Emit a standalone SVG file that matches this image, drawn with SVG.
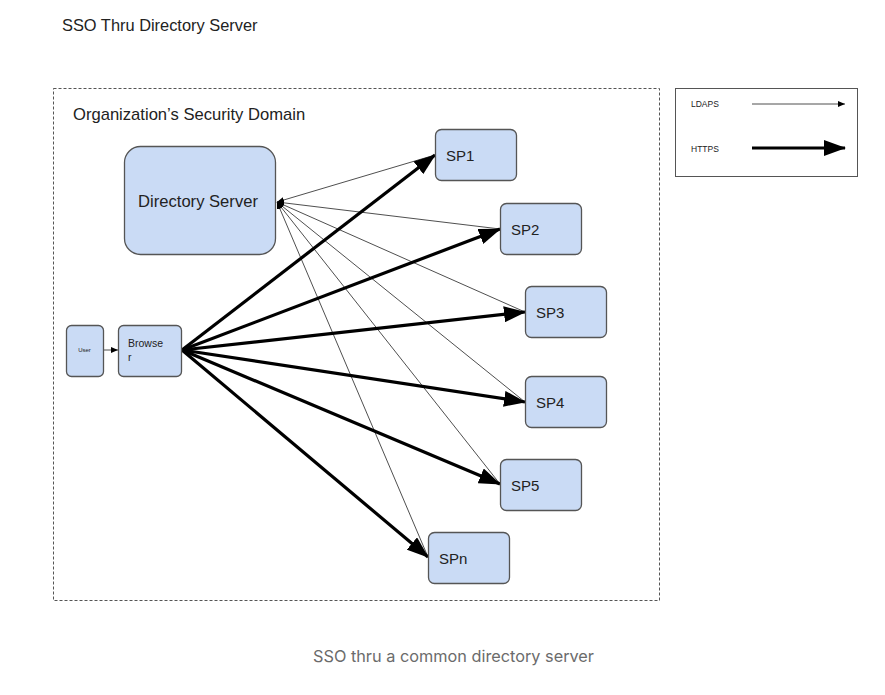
<svg xmlns="http://www.w3.org/2000/svg" width="885" height="695" viewBox="0 0 885 695">
<style>
text{font-family:"Liberation Sans",Arial,sans-serif;fill:#222}
.node{fill:#cadbf5;stroke:#555;stroke-width:1.3}
.thin{stroke:#222;stroke-width:0.8;fill:none}
.thick{stroke:#000;stroke-width:3.2;fill:none}
</style>
<defs>
<marker id="ah" markerUnits="userSpaceOnUse" markerWidth="22" markerHeight="16" viewBox="0 0 22 16" refX="21" refY="8" orient="auto">
<path d="M0,0 L22,8 L0,16 Z" fill="#000"/>
</marker>
<marker id="al" markerUnits="userSpaceOnUse" markerWidth="7" markerHeight="6" viewBox="0 0 7 6" refX="7" refY="3" orient="auto">
<path d="M0,0 L7,3 L0,6 Z" fill="#000"/>
</marker>
</defs>
<rect width="885" height="695" fill="#fff"/>
<text x="62" y="31" font-size="16.4">SSO Thru Directory Server</text>
<rect x="53.5" y="88.5" width="606" height="512" fill="none" stroke="#555" stroke-width="1" stroke-dasharray="3,2"/>
<text x="73" y="120" font-size="16.6">Organization’s Security Domain</text>

<g id="legend">
<rect x="675.5" y="88.5" width="182" height="88" fill="#fff" stroke="#555" stroke-width="1"/>
<text x="691" y="107" font-size="8.5">LDAPS</text>
<line x1="752" y1="104" x2="845" y2="104" class="thin" marker-end="url(#al)"/>
<text x="691" y="152" font-size="8.5">HTTPS</text>
<line x1="752" y1="148" x2="845" y2="148" class="thick" marker-end="url(#ah)"/>
</g>

<g id="connectors">
<g id="ldaps">
<line x1="435" y1="155" x2="277" y2="202" class="thin" marker-end="url(#al)"/>
<line x1="500" y1="229" x2="277" y2="202" class="thin" marker-end="url(#al)"/>
<line x1="525" y1="312" x2="277" y2="202" class="thin" marker-end="url(#al)"/>
<line x1="525" y1="402" x2="277" y2="202" class="thin" marker-end="url(#al)"/>
<line x1="500" y1="484" x2="277" y2="202" class="thin" marker-end="url(#al)"/>
<line x1="428" y1="557" x2="277" y2="202" class="thin" marker-end="url(#al)"/>
</g>
<g id="https">
<line x1="182" y1="350" x2="435" y2="155" class="thick" marker-end="url(#ah)"/>
<line x1="182" y1="350" x2="500" y2="229" class="thick" marker-end="url(#ah)"/>
<line x1="182" y1="350" x2="525" y2="312" class="thick" marker-end="url(#ah)"/>
<line x1="182" y1="350" x2="525" y2="402" class="thick" marker-end="url(#ah)"/>
<line x1="182" y1="350" x2="500" y2="484" class="thick" marker-end="url(#ah)"/>
<line x1="182" y1="350" x2="428" y2="557" class="thick" marker-end="url(#ah)"/>
</g>
<line x1="103" y1="350" x2="118" y2="350" class="thin" marker-end="url(#al)"/>
</g>

<g id="directory-server">
<rect x="124.5" y="146.5" width="151" height="108" rx="16" class="node"/>
<text x="198" y="207" font-size="16.6" text-anchor="middle">Directory Server</text>
</g>
<g id="user">
<rect x="66.5" y="325.5" width="37" height="51" rx="5" class="node"/>
<text x="84.5" y="352" font-size="6" text-anchor="middle">User</text>
</g>
<g id="browser">
<rect x="118.5" y="325.5" width="63" height="51" rx="5" class="node"/>
<text x="128" y="347" font-size="10.5">Browse</text>
<text x="128" y="361" font-size="10.5">r</text>
</g>
<g id="sp1">
<rect x="435.5" y="129.5" width="81" height="51" rx="6" class="node"/>
<text x="446" y="161" font-size="15">SP1</text>
</g>
<g id="sp2">
<rect x="500.5" y="203.5" width="81" height="51" rx="6" class="node"/>
<text x="511" y="235" font-size="15">SP2</text>
</g>
<g id="sp3">
<rect x="525.5" y="286.5" width="81" height="51" rx="6" class="node"/>
<text x="536" y="318" font-size="15">SP3</text>
</g>
<g id="sp4">
<rect x="525.5" y="376.5" width="81" height="51" rx="6" class="node"/>
<text x="536" y="408" font-size="15">SP4</text>
</g>
<g id="sp5">
<rect x="500.5" y="459.5" width="81" height="51" rx="6" class="node"/>
<text x="511" y="491" font-size="15">SP5</text>
</g>
<g id="spn">
<rect x="428.5" y="532.5" width="81" height="51" rx="6" class="node"/>
<text x="439" y="564" font-size="15">SPn</text>
</g>

<text x="453.5" y="662" font-size="16.3" text-anchor="middle" style="font-family:Inter,'Liberation Sans',sans-serif;fill:#6b6b6b">SSO thru a common directory server</text>
</svg>
